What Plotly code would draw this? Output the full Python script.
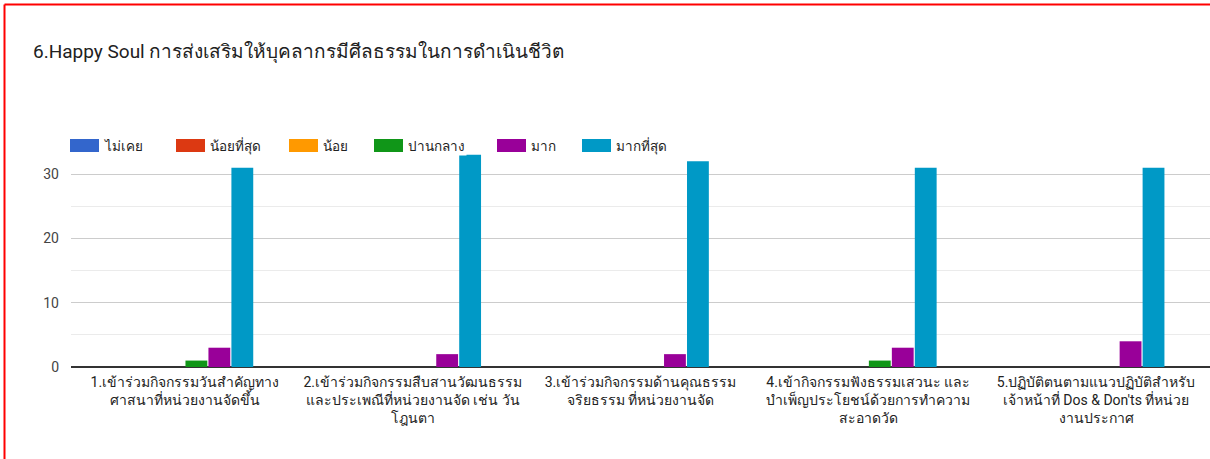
import plotly.graph_objects as go

W, H = 1210, 459
ML, MR, MT, MB = 71, 0, 142, 92

title = "6.Happy Soul การส่งเสริมให้บุคลากรมีศีลธรรมในการดำเนินชีวิต"

categories = [
    "1.เข้าร่วมกิจกรรมวันสำคัญทาง<br>ศาสนาที่หน่วยงานจัดขึ้น",
    "2.เข้าร่วมกิจกรรมสืบสานวัฒนธรรม<br>และประเพณีที่หน่วยงานจัด เช่น วัน<br>โฎนตา",
    "3.เข้าร่วมกิจกรรมด้านคุณธรรม<br>จริยธรรม ที่หน่วยงานจัด",
    "4.เข้ากิจกรรมฟังธรรมเสวนะ และ<br>บำเพ็ญประโยชน์ด้วยการทำความ<br>สะอาดวัด",
    "5.ปฏิบัติตนตามแนวปฏิบัติสำหรับ<br>เจ้าหน้าที่ Dos & Don'ts ที่หน่วย<br>งานประกาศ",
]

series_names = ["ไม่เคย", "น้อยที่สุด", "น้อย", "ปานกลาง", "มาก", "มากที่สุด"]
never = [0, 0, 0, 0, 0]
least = [0, 0, 0, 0, 0]
little = [0, 0, 0, 0, 0]
moderate = [1, 0, 0, 1, 0]
much = [3, 2, 2, 3, 4]
most = [31, 33, 32, 31, 31]
series_values = [never, least, little, moderate, much, most]

y_tickvals = [0, 10, 20, 30]

colors = ["#3366cc", "#dc3912", "#ff9900", "#109618", "#990099", "#0099c6"]
FONT = "Roboto, Arial, 'Noto Sans', sans-serif"

fig = go.Figure()
xs = list(range(len(categories)))
for name, vals, col in zip(series_names, series_values, colors):
    fig.add_trace(go.Bar(x=xs, y=vals, name=name, marker_color=col,
                         marker_line_width=0, showlegend=False))

# manual legend (Google-charts style wide swatches)
swatch_x = [70, 176, 289, 374, 497, 582]
sw_w, sw_y0, sw_y1 = 29, 139, 152
def px_x(p):
    return (p - ML) / (W - ML - MR)
def px_y(q):
    return (H - MB - q) / (H - MT - MB)

shapes = []
annotations = []
for sx, name, col in zip(swatch_x, series_names, colors):
    shapes.append(dict(type="rect", xref="paper", yref="paper",
                       x0=px_x(sx), x1=px_x(sx + sw_w), y0=px_y(sw_y1), y1=px_y(sw_y0),
                       fillcolor=col, line=dict(width=0), layer="above"))
    annotations.append(dict(xref="paper", yref="paper", x=px_x(sx + sw_w + 3),
                            y=px_y((sw_y0 + sw_y1) / 2), text=name, showarrow=False,
                            xanchor="left", yanchor="middle", bgcolor="white",
                            font=dict(family=FONT, size=13.5, color="#222222")))

# red frame (left and top edges visible)
shapes.append(dict(type="line", xref="paper", yref="paper",
                   x0=px_x(4.5), x1=px_x(4.5), y0=px_y(H + 5), y1=px_y(4.5),
                   line=dict(color="#ff0000", width=2), layer="above"))
shapes.append(dict(type="line", xref="paper", yref="paper",
                   x0=px_x(4.5), x1=px_x(W + 5), y0=px_y(4.5), y1=px_y(4.5),
                   line=dict(color="#ff0000", width=2), layer="above"))

fig.update_layout(
    width=W, height=H,
    margin=dict(l=ML, r=MR, t=MT, b=MB, autoexpand=False),
    paper_bgcolor="white", plot_bgcolor="white",
    barmode="group", bargap=0.395, bargroupgap=0.05,
    title=dict(text=title, xref="container", yref="container",
               x=33 / W, xanchor="left", y=1 - 51 / H, yanchor="middle",
               font=dict(family=FONT, size=19, color="#212121")),
    font=dict(family=FONT, size=13, color="#222222"),
    shapes=shapes, annotations=annotations,
    showlegend=False,
)
fig.update_xaxes(tickmode="array", tickvals=xs, ticktext=categories,
                 range=[-0.5, len(categories) - 0.5], showgrid=False,
                 showline=False, zeroline=False, ticks="", ticklabelstandoff=5,
                 tickfont=dict(family=FONT, size=14, color="#222222"))
fig.update_yaxes(range=[0, 35], tickmode="array", tickvals=y_tickvals,
                 showgrid=True, gridcolor="#cccccc", gridwidth=1,
                 minor=dict(dtick=5, tick0=0, showgrid=True, gridcolor="#ebebeb", gridwidth=1),
                 zeroline=True, zerolinecolor="#333333", zerolinewidth=2,
                 showline=False, ticks="", ticklabelstandoff=11,
                 tickfont=dict(family=FONT, size=14, color="#444444"))

fig.write_html("out.html", config={"displayModeBar": False},
               post_script="document.body.style.margin='0';document.body.style.overflow='hidden';"
                           "document.documentElement.style.overflow='hidden';")
